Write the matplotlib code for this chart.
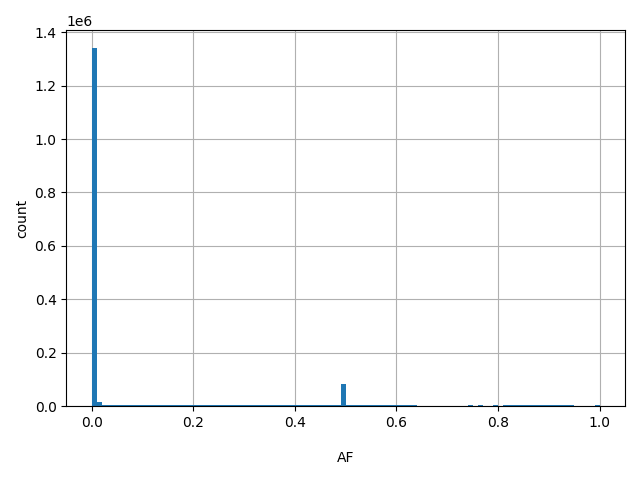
import matplotlib
matplotlib.use("Agg")
import matplotlib.pyplot as plt
import numpy as np

# histogram of allele frequency, 100 bins over [0, 1]
bin_edges = np.linspace(0, 1, 101)
counts = [
    1340000, 16000, 7000, 5000, 4800, 4700, 4600, 4500, 4500, 4500,
    4500, 4400, 4400, 4400, 4400, 4400, 4400, 4400, 4300, 4300,
    4300, 4300, 4300, 4300, 4300, 4300, 4300, 4300, 4300, 4300,
    4300, 4300, 4300, 4300, 4300, 4300, 4300, 4300, 4300, 4300,
    4300, 4300, 4300, 4300, 4400, 4400, 4500, 4500, 4600, 83000,
    4700, 4600, 4500, 4500, 4500, 4400, 4400, 4400, 4400, 4400,
    4400, 4400, 4400, 4400, 0, 0, 0, 0, 0, 0,
    0, 0, 0, 0, 4500, 0, 4500, 0, 0, 4500,
    0, 4500, 4500, 4500, 4500, 4500, 4500, 4500, 4500, 4500,
    4500, 4500, 4500, 4500, 4500, 0, 0, 0, 0, 4500,
]

fig, ax = plt.subplots(figsize=(6.4, 4.8), dpi=100)
ax.hist(bin_edges[:-1], bins=bin_edges, weights=counts, color="C0")
ax.grid(True)
ax.set_axisbelow(True)
ax.set_xlabel("AF", labelpad=15)
ax.set_ylabel("count")
fig.tight_layout()
fig.savefig("out.png")
